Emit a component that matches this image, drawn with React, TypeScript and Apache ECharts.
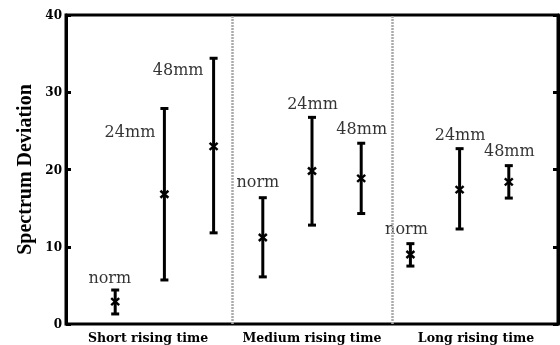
import React, { useEffect, useRef } from "react";
import * as echarts from "echarts";

const groups = ["Short rising time", "Medium rising time", "Long rising time"];
const sizes = ["norm", "24mm", "48mm", "norm", "24mm", "48mm", "norm", "24mm", "48mm"];
const xPos = [1, 2, 3, 4, 5, 6, 7, 8, 9];
const means = [2.9, 16.8, 23.0, 11.2, 19.8, 18.85, 9.0, 17.4, 18.4];
const upper = [4.4, 27.9, 34.4, 16.35, 26.75, 23.4, 10.4, 22.7, 20.5];
const lower = [1.3, 5.7, 11.8, 6.1, 12.8, 14.3, 7.5, 12.3, 16.3];
const labelX = [0.89, 1.3, 2.28, 3.9, 5.01, 6.01, 6.92, 8.01, 9.01];
const labelY = [6.0, 24.9, 32.9, 18.4, 28.5, 25.3, 12.4, 24.5, 22.5];
const dividers = [3.38, 6.63];
const yTicks = { min: 0, max: 40, interval: 10 };

export default function App() {
  const ref = useRef<HTMLDivElement>(null);
  useEffect(() => {
    if (!ref.current) return;
    const chart = echarts.init(ref.current, null, { renderer: "svg" });
    const errData = xPos.map((x, i) => [x, means[i], lower[i], upper[i]]);
    const lblData = xPos.map((_, i) => ({ name: sizes[i], value: [labelX[i], labelY[i]] }));
    chart.setOption({
      animation: false,
      grid: { left: 66, right: 2, top: 15, bottom: 21, show: true, borderColor: "#000", borderWidth: 3 },
      xAxis: [
        { type: "value", min: 0, max: 10, show: false },
        {
          type: "category",
          data: groups,
          position: "bottom",
          axisLine: { show: false },
          axisTick: { show: false },
          splitLine: { show: false },
          axisLabel: { interval: 0, hideOverlap: false, margin: 7, color: "#000", fontFamily: "DejaVu Serif", fontWeight: "bold", fontSize: 12.5 },
        },
      ],
      yAxis: [
        {
          type: "value",
          ...yTicks,
          name: "Spectrum Deviation",
          nameLocation: "middle",
          nameGap: 31,
          nameTextStyle: { color: "#000", fontFamily: "Liberation Serif", fontWeight: "bold", fontSize: 20 },
          axisLine: { show: true, lineStyle: { color: "#000", width: 3 } },
          axisTick: { show: true, inside: true, length: 5, lineStyle: { color: "#000", width: 3 } },
          splitLine: { show: false },
          axisLabel: { margin: 4, color: "#000", fontFamily: "DejaVu Serif", fontWeight: "bold", fontSize: 12 },
        },
        {
          type: "value",
          ...yTicks,
          position: "right",
          axisLine: { show: true, lineStyle: { color: "#000", width: 3 } },
          axisTick: { show: true, inside: true, length: 5, lineStyle: { color: "#000", width: 3 } },
          splitLine: { show: false },
          axisLabel: { show: false },
        },
      ],
      series: [
        {
          type: "custom",
          xAxisIndex: 0,
          yAxisIndex: 0,
          data: errData,
          encode: { x: 0, y: [1, 2, 3] },
          renderItem: (params: any, api: any) => {
            const x = api.value(0);
            const pm = api.coord([x, api.value(1)]);
            const pl = api.coord([x, api.value(2)]);
            const ph = api.coord([x, api.value(3)]);
            const cw = 4;
            const st = { stroke: "#000", lineWidth: 3 };
            const mx = 4, my = 3.5;
            return {
              type: "group",
              children: [
                { type: "line", shape: { x1: pl[0], y1: pl[1], x2: ph[0], y2: ph[1] }, style: st },
                { type: "line", shape: { x1: pl[0] - cw, y1: pl[1], x2: pl[0] + cw, y2: pl[1] }, style: st },
                { type: "line", shape: { x1: ph[0] - cw, y1: ph[1], x2: ph[0] + cw, y2: ph[1] }, style: st },
                { type: "line", shape: { x1: pm[0] - mx, y1: pm[1] - my, x2: pm[0] + mx, y2: pm[1] + my }, style: { stroke: "#000", lineWidth: 2.5 } },
                { type: "line", shape: { x1: pm[0] - mx, y1: pm[1] + my, x2: pm[0] + mx, y2: pm[1] - my }, style: { stroke: "#000", lineWidth: 2.5 } },
              ],
            };
          },
          markLine: {
            silent: true,
            symbol: "none",
            label: { show: false },
            lineStyle: { color: "#aaa", width: 2.5, type: [2, 1] },
            data: dividers.map((d) => ({ xAxis: d })),
          },
          z: 3,
        },
        {
          type: "scatter",
          xAxisIndex: 0,
          yAxisIndex: 0,
          symbolSize: 0,
          data: lblData,
          label: {
            show: true,
            position: "inside",
            formatter: (p: any) => p.name,
            color: "#000",
            fontFamily: "DejaVu Serif",
            fontSize: 16,
          },
          z: 4,
        },
      ],
    });
    return () => chart.dispose();
  }, []);
  return <div ref={ref} style={{ position: "fixed", left: 0, top: 0, width: 560, height: 345 }} />;
}
